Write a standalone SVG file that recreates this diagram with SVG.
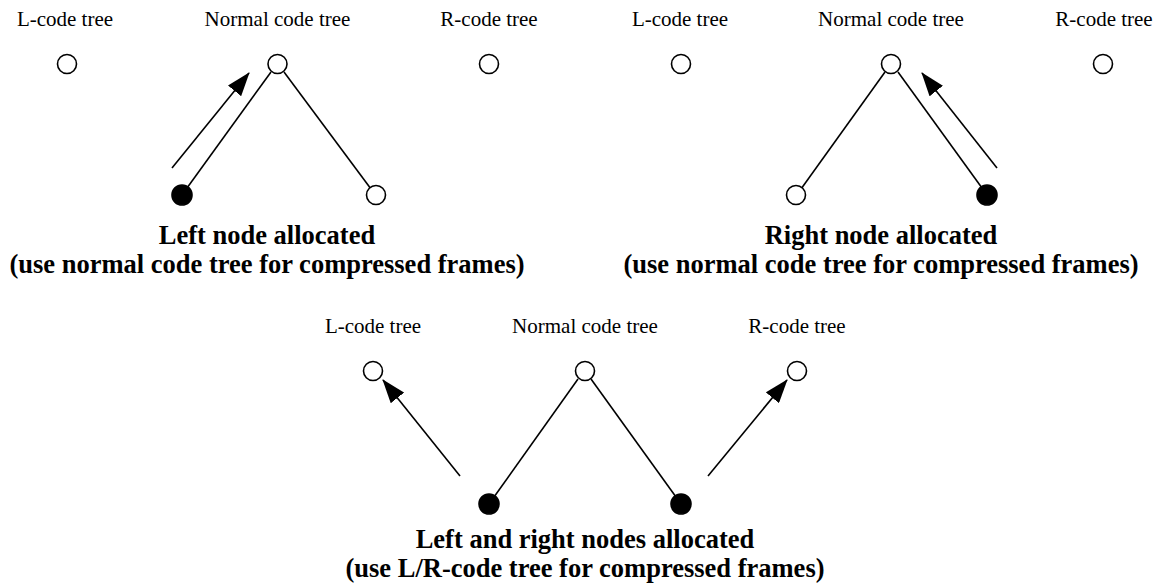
<svg xmlns="http://www.w3.org/2000/svg" width="1158" height="586" viewBox="0 0 1158 586">
<style>
.lbl{font-family:"Liberation Serif","Times New Roman",serif;font-size:21px;fill:#000;text-anchor:middle}
.cap{font-family:"Liberation Serif","Times New Roman",serif;font-size:26.5px;font-weight:bold;fill:#000;text-anchor:middle}
.open{fill:#fff;stroke:#000;stroke-width:1.6}
.full{fill:#000;stroke:#000;stroke-width:1.6}
.edge{stroke:#000;stroke-width:1.6;fill:none}
.arr{stroke:#000;stroke-width:1.6;fill:none;marker-end:url(#ah)}
</style>
<defs>
<marker id="ah" viewBox="0 0 24 17" refX="23" refY="8.5" markerWidth="24" markerHeight="17" orient="auto" markerUnits="userSpaceOnUse">
<path d="M0,0 L24,8.5 L0,17 z" fill="#000"/>
</marker>
</defs>
<rect width="1158" height="586" fill="#fff"/>
<g id="connectors">
<line class="edge" x1="271" y1="72" x2="187" y2="188"/>
<line class="edge" x1="284" y1="72" x2="371" y2="189"/>
<line class="arr" x1="172" y1="168" x2="249" y2="73"/>
<line class="edge" x1="885" y1="72" x2="801" y2="189"/>
<line class="edge" x1="898" y1="72" x2="982" y2="188"/>
<line class="arr" x1="997" y1="168" x2="922" y2="73"/>
<line class="edge" x1="578" y1="379" x2="494" y2="497"/>
<line class="edge" x1="591" y1="379" x2="676" y2="497"/>
<line class="arr" x1="460" y1="476" x2="383" y2="380"/>
<line class="arr" x1="708" y1="476" x2="787" y2="380"/>
</g>
<g id="panel1">
<text class="lbl" x="65" y="26">L-code tree</text>
<text class="lbl" x="277.5" y="26">Normal code tree</text>
<text class="lbl" x="489" y="26">R-code tree</text>
<circle class="open" cx="67" cy="64" r="9.5"/>
<circle class="open" cx="277.5" cy="64" r="9.5"/>
<circle class="open" cx="489" cy="64" r="9.5"/>
<circle class="full" cx="182" cy="195" r="10"/>
<circle class="open" cx="376" cy="195" r="9.5"/>
<text class="cap" x="267" y="244">Left node allocated</text>
<text class="cap" x="267" y="273">(use normal code tree for compressed frames)</text>
</g>
<g id="panel2">
<text class="lbl" x="680" y="26">L-code tree</text>
<text class="lbl" x="891" y="26">Normal code tree</text>
<text class="lbl" x="1104" y="26">R-code tree</text>
<circle class="open" cx="681" cy="64" r="9.5"/>
<circle class="open" cx="891" cy="64" r="9.5"/>
<circle class="open" cx="1103" cy="64" r="9.5"/>
<circle class="open" cx="796" cy="195" r="9.5"/>
<circle class="full" cx="987" cy="195" r="10"/>
<text class="cap" x="881" y="244">Right node allocated</text>
<text class="cap" x="881" y="273">(use normal code tree for compressed frames)</text>
</g>
<g id="panel3">
<text class="lbl" x="373" y="333">L-code tree</text>
<text class="lbl" x="585" y="333">Normal code tree</text>
<text class="lbl" x="797" y="333">R-code tree</text>
<circle class="open" cx="373" cy="371" r="9.5"/>
<circle class="open" cx="585" cy="371" r="9.5"/>
<circle class="open" cx="797" cy="371" r="9.5"/>
<circle class="full" cx="489" cy="504" r="10"/>
<circle class="full" cx="681" cy="504" r="10"/>
<text class="cap" x="585" y="548">Left and right nodes allocated</text>
<text class="cap" x="585" y="577">(use L/R-code tree for compressed frames)</text>
</g>
</svg>
